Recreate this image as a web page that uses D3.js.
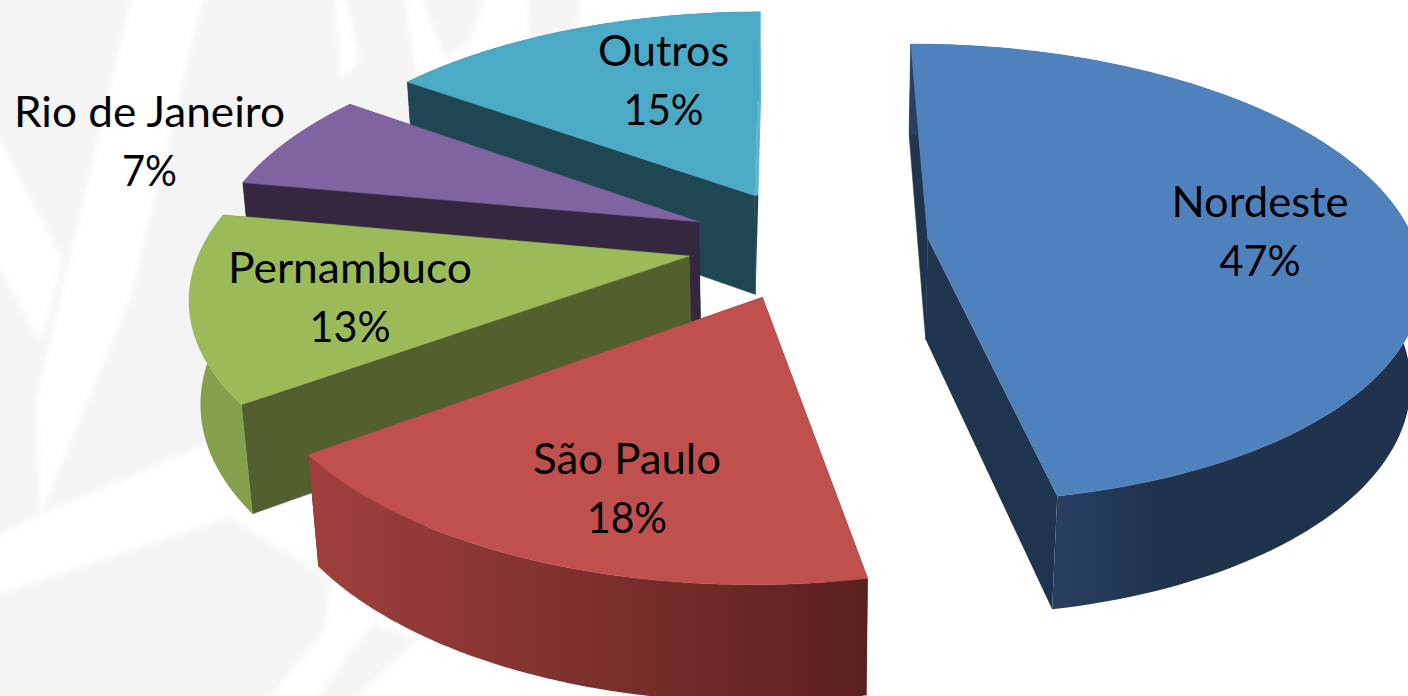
<!DOCTYPE html>
<html>
<head>
    <meta charset="utf-8">
    <title>Pie 3D</title>
    <script src="https://d3js.org/d3.v7.min.js" charset="utf-8"></script>
    <style>
        html, body { margin: 0; padding: 0; background: #fff; overflow: hidden; }
        svg { display: block; }
    </style>
</head>
<body>
    <script>
        // data
        var categories = ["Nordeste", "São Paulo", "Pernambuco", "Rio de Janeiro", "Outros"];
        var shares = [47, 18, 13, 7, 15];

        // colours per slice: top face, radial walls, outer wall (light end -> dark end)
        var topColors = ["#4f81bd", "#c0504d", "#9bbb59", "#8064a2", "#4babc6"];
        var wallColors = ["#1f344e", "#5a201e", "#52602f", "#35273f", "#1f4653"];
        var backWallTop = ["#1f344e", "#5a201e", "#52602f", "#35273f", "#62b6cc"];
        var outerLight = ["#283f62", "#9f403d", "#85a04c", "#35273f", "#62b6cc"];
        var outerDark = ["#1f334d", "#5a201e", "#85a04c", "#35273f", "#1f4653"];
        var outerKnee = [0.27, 1, 1, 1, 0.03];

        // label layout: centre x, first baseline, text width of each line
        var labelX = [1260, 627, 350, 149.5, 663.5];
        var labelY = [217, 474, 283, 127, 66];
        var nameWidth = [177, 188, 244, 271, 131];
        var pctWidth = [81, 80, 81, 55, 80];
        var lineGap = 59;

        // camera of the tilted pie
        var cx = 808, cy = 243.5;       // pie centre on screen
        var radiusX = 486.9;            // horizontal radius at w = 1
        var horizon = 1476.2;           // distance centre -> vanishing line
        var tilt = 0.1525;              // perspective along the pie's depth
        var explode = 0.248;            // slices pulled out by this share of the radius
        var thickness = 130;            // pie height
        var drop = 0.018;               // perspective along the vertical
        var startAngle = -0.003;

        var width = 1408, height = 696;

        var svg = d3.select("body")
            .append("svg")
            .attr("width", width)
            .attr("height", height);

        // faint watermark behind the chart
        var defs = svg.append("defs");
        defs.append("filter").attr("id", "soft")
            .attr("x", "-10%").attr("y", "-10%").attr("width", "120%").attr("height", "120%")
            .append("feGaussianBlur").attr("stdDeviation", 3);

        var greyShapes = [
            [[-10, -10], [403, -10], [425, 130], [240, 430], [40, 515], [-10, 540]],
            [[-10, 597], [230, 517], [331, 580], [324, 630], [263, 706], [-10, 706]],
            [[372, 623], [419, 640], [345, 706], [311, 706]],
            [[420, -10], [487, -10], [470, 40], [445, 60]],
            [[528, -10], [581, -10], [575, 45], [530, 40]]
        ];
        var whiteShapes = [
            [[133, -10], [205, -10], [130, 300], [40, 515], [36, 400]],
            [[-10, 120], [63, 262], [40, 342], [-10, 250]],
            [[335, -10], [345, -10], [360, 60], [340, 80]]
        ];
        var line = d3.line();
        var wm = svg.append("g").attr("filter", "url(#soft)");
        wm.selectAll(".grey").data(greyShapes).enter().append("path")
            .attr("class", "grey")
            .attr("d", function(d) { return line(d) + "Z"; })
            .attr("fill", "#f4f4f4");
        wm.selectAll(".white").data(whiteShapes).enter().append("path")
            .attr("class", "white")
            .attr("d", function(d) { return line(d) + "Z"; })
            .attr("fill", "#fff");

        // pie plane -> screen. z = 0 is the top face, z = 1 the bottom one
        function project(X, Y, z) {
            var w = 1 + tilt * Y + drop * z;
            return [cx + radiusX * X / w, cy - horizon + (horizon + thickness * z) / w];
        }

        var pie = d3.pie().sort(null)
            .startAngle(startAngle)
            .endAngle(startAngle + 2 * Math.PI);
        var slices = pie(shares).map(function(d, i) {
            var mid = (d.startAngle + d.endAngle) / 2;
            return {
                i: i,
                a0: d.startAngle,
                a1: d.endAngle,
                ox: explode * Math.sin(mid),
                oy: explode * Math.cos(mid)
            };
        });

        function rim(s, t, z) {
            return project(s.ox + Math.sin(t), s.oy + Math.cos(t), z);
        }
        function apex(s, z) {
            return project(s.ox, s.oy, z);
        }
        function arcPoints(s, z, n) {
            return d3.range(n + 1).map(function(k) {
                return rim(s, s.a0 + (s.a1 - s.a0) * k / n, z);
            });
        }

        // back slices first, the big one last
        var order = [4, 3, 2, 1, 0];
        var pieces = svg.append("g").attr("class", "pie");

        order.forEach(function(idx) {
            var s = slices[idx];
            var g = pieces.append("g");

            // radial wall at the end of the arc, its colour changes at the apex height
            var ay = apex(s, 0)[1];
            var back = defs.append("linearGradient")
                .attr("id", "back" + idx)
                .attr("gradientUnits", "userSpaceOnUse")
                .attr("x1", 0).attr("y1", ay - 1)
                .attr("x2", 0).attr("y2", ay + 1);
            back.append("stop").attr("offset", 0).attr("stop-color", backWallTop[idx]);
            back.append("stop").attr("offset", 1).attr("stop-color", wallColors[idx]);
            g.append("path")
                .attr("d", line([apex(s, 0), rim(s, s.a1, 0), rim(s, s.a1, 1), apex(s, 1)]) + "Z")
                .attr("fill", "url(#back" + idx + ")");

            // radial wall at the start of the arc
            g.append("path")
                .attr("d", line([apex(s, 0), rim(s, s.a0, 0), rim(s, s.a0, 1), apex(s, 1)]) + "Z")
                .attr("fill", wallColors[idx])
                .attr("stroke", wallColors[idx])
                .attr("stroke-width", 0.5);

            // outer wall, shaded from the end of the arc to its far side
            var top = arcPoints(s, 0, 120);
            var bottom = arcPoints(s, 1, 120);
            var x1 = top[120][0];
            var xs = d3.extent(top, function(p) { return p[0]; });
            var x2 = Math.abs(xs[0] - x1) > Math.abs(xs[1] - x1) ? xs[0] : xs[1];
            var grad = defs.append("linearGradient")
                .attr("id", "outer" + idx)
                .attr("gradientUnits", "userSpaceOnUse")
                .attr("x1", x1).attr("y1", 0)
                .attr("x2", x2).attr("y2", 0);
            grad.append("stop").attr("offset", 0).attr("stop-color", outerLight[idx]);
            grad.append("stop").attr("offset", outerKnee[idx]).attr("stop-color", outerDark[idx]);
            g.append("path")
                .attr("d", line(top.concat(bottom.reverse())) + "Z")
                .attr("fill", "url(#outer" + idx + ")");

            // top face
            g.append("path")
                .attr("d", line([apex(s, 0)].concat(arcPoints(s, 0, 120))) + "Z")
                .attr("fill", topColors[idx])
                .attr("stroke", topColors[idx])
                .attr("stroke-width", 0.5);
        });

        // labels
        var labels = svg.append("g")
            .attr("font-family", "Lato, 'Open Sans', sans-serif")
            .attr("font-size", 42)
            .attr("fill", "#000")
            .attr("text-anchor", "middle");

        labels.selectAll(".name").data(categories).enter().append("text")
            .attr("class", "name")
            .attr("x", function(d, i) { return labelX[i]; })
            .attr("y", function(d, i) { return labelY[i]; })
            .attr("textLength", function(d, i) { return nameWidth[i]; })
            .attr("lengthAdjust", "spacingAndGlyphs")
            .text(function(d) { return d; });

        labels.selectAll(".pct").data(shares).enter().append("text")
            .attr("class", "pct")
            .attr("x", function(d, i) { return labelX[i]; })
            .attr("y", function(d, i) { return labelY[i] + lineGap; })
            .attr("textLength", function(d, i) { return pctWidth[i]; })
            .attr("lengthAdjust", "spacingAndGlyphs")
            .text(function(d) { return d + "%"; });
    </script>
</body>
</html>
